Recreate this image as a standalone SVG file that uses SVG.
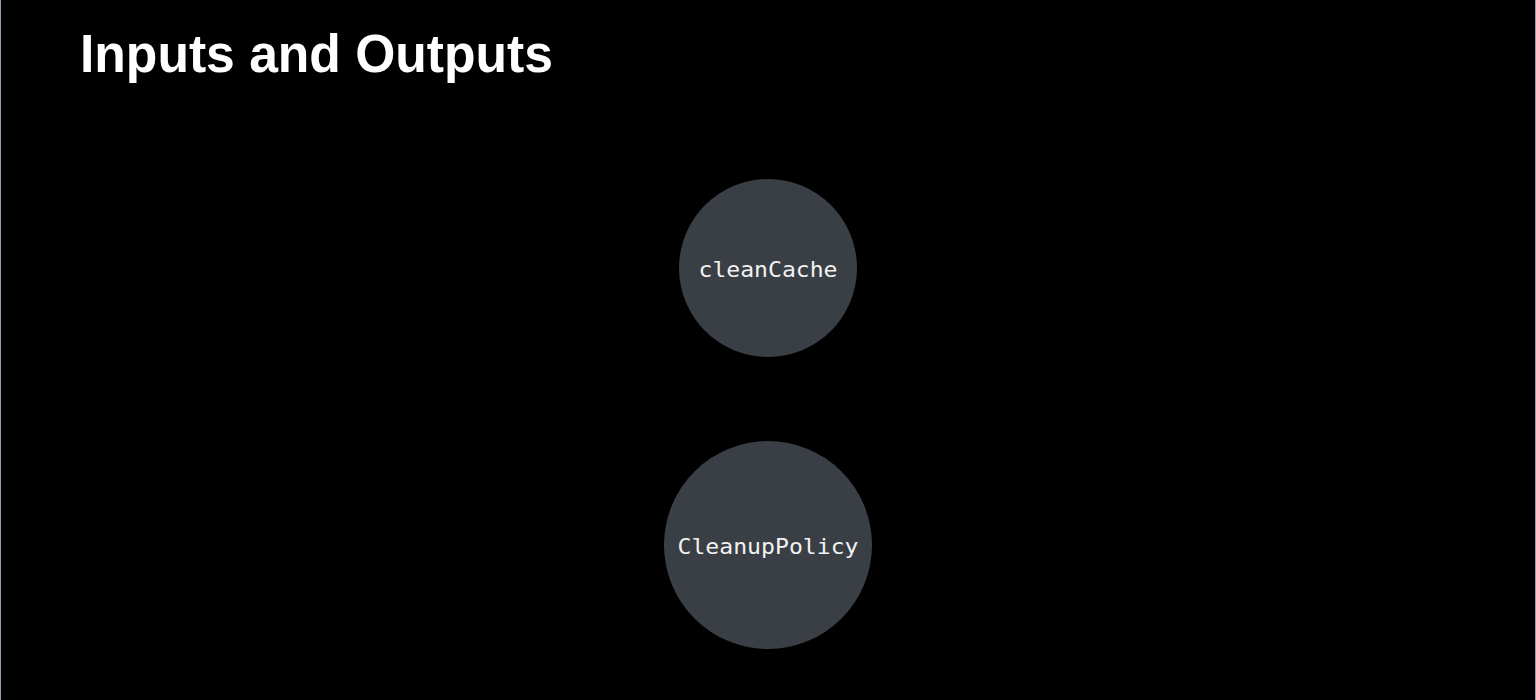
<svg xmlns="http://www.w3.org/2000/svg" width="1536" height="700" viewBox="0 0 1536 700">
  <style>
    .node { fill: #393f44; }
    .label { font-family: "DejaVu Sans Mono", "Liberation Mono", monospace; font-size: 22px; fill: #f2f2f2; text-anchor: middle; }
    .title { font-family: "Liberation Sans", Arial, sans-serif; font-weight: bold; font-size: 54px; fill: #ffffff; }
  </style>
  <rect x="0" y="0" width="1536" height="700" fill="#000000"/>
  <line x1="0.5" y1="0" x2="0.5" y2="700" stroke="#9a9eb4" stroke-width="1"/>
  <line x1="1535.5" y1="0" x2="1535.5" y2="700" stroke="#9a9eb4" stroke-width="1"/>
  <text class="title" x="80" y="72" textLength="473" lengthAdjust="spacingAndGlyphs">Inputs and Outputs</text>
  <g id="connectors"></g>
  <g id="node-cleanCache">
    <circle class="node" cx="768" cy="268" r="89"/>
    <text class="label" x="768" y="277" textLength="139" lengthAdjust="spacingAndGlyphs">cleanCache</text>
  </g>
  <g id="node-CleanupPolicy">
    <circle class="node" cx="768" cy="545" r="104"/>
    <text class="label" x="768" y="554" textLength="181" lengthAdjust="spacingAndGlyphs">CleanupPolicy</text>
  </g>
</svg>
